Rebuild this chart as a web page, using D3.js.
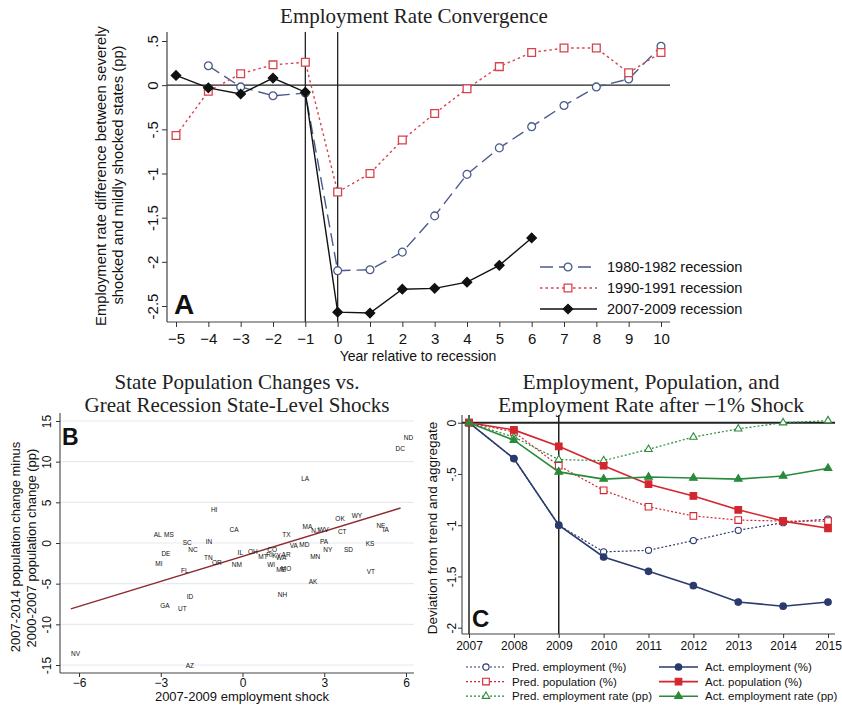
<!DOCTYPE html>
<html>
<head>
<meta charset="utf-8">
<script src="https://cdn.jsdelivr.net/npm/d3@7"></script>
<style>
body { margin: 0; background: #fff; }
svg { display: block; }
text { font-family: "Liberation Sans", Arial, sans-serif; fill: #111; }
.ttl { font-family: "Liberation Serif", "Times New Roman", serif; fill: #222; }
</style>
</head>
<body>
<script>
// ---- panel A : employment rate convergence
var yearsA = [-5, -4, -3, -2, -1, 0, 1, 2, 3, 4, 5, 6, 7, 8, 9, 10];
var rec8082 = [null, 0.22, -0.02, -0.12, -0.09, -2.10, -2.09, -1.89, -1.48, -1.01, -0.71, -0.47, -0.23, -0.02, 0.07, 0.44];
var rec9091 = [-0.57, -0.07, 0.13, 0.23, 0.26, -1.21, -1.00, -0.62, -0.32, -0.04, 0.21, 0.37, 0.42, 0.42, 0.14, 0.37];
var rec0709 = [0.11, -0.03, -0.10, 0.08, -0.08, -2.57, -2.58, -2.31, -2.30, -2.23, -2.04, -1.73, null, null, null, null];
var seriesNamesA = ["1980-1982 recession", "1990-1991 recession", "2007-2009 recession"];
var yTicksA = [0.5, 0, -0.5, -1, -1.5, -2, -2.5];

// ---- panel B : state population changes vs shocks
var states = ["ND","DC","LA","HI","OK","WY","CA","MA","NJ","WV","NE","IA","CT","TX","AL","MS","SC","IN","PA","KS",
              "VA","MD","NC","NY","SD","DE","IL","OH","CO","MT","RI","KY","WA","AR","WI","ME","MO","MN","TN","OR",
              "NM","MI","FL","VT","AK","ID","NH","GA","UT","NV","AZ"];
var shock = [6.09, 5.79, 2.30, -1.04, 3.58, 4.20, -0.31, 2.38, 2.67, 2.97, 5.08, 5.26, 3.66, 1.61, -3.11, -2.70, -2.03, -1.23, 2.99, 4.68,
             1.88, 2.27, -1.82, 3.13, 3.89, -2.81, -0.08, 0.38, 1.09, 0.75, 0.99, 1.25, 1.42, 1.60, 1.05, 1.42, 1.60, 2.67, -1.25, -0.94,
             -0.21, -3.07, -2.12, 4.71, 2.59, -1.93, 1.47, -2.85, -2.21, -6.13, -1.93];
var popChange = [12.98, 11.58, 7.88, 4.05, 3.02, 3.31, 1.58, 1.95, 1.54, 1.67, 2.16, 1.63, 1.38, 1.01, 0.96, 1.01, 0.00, 0.19, 0.19, -0.14,
                 -0.39, -0.19, -0.88, -0.84, -0.84, -1.34, -1.21, -1.09, -0.88, -1.67, -1.45, -1.55, -1.85, -1.45, -2.65, -3.27, -3.11, -1.63, -1.83, -2.45,
                 -2.61, -2.57, -3.40, -3.56, -4.79, -6.60, -6.40, -7.67, -8.05, -13.56, -15.09];
var fitSlope = 1.025, fitIntercept = -1.64, fitRange = [-6.3, 5.8];
var xTicksB = [-6, -3, 0, 3, 6];
var yTicksB = [15, 10, 5, 0, -5, -10, -15];

// ---- panel C : employment, population and employment rate after -1% shock
var yearsC = [2007, 2008, 2009, 2010, 2011, 2012, 2013, 2014, 2015];
var predEmp  = [0, -0.35, -1.00, -1.26, -1.245, -1.15, -1.05, -0.975, -0.94];
var actEmp   = [0, -0.35, -1.00, -1.31, -1.45, -1.59, -1.75, -1.79, -1.75];
var predPop  = [0, -0.09, -0.42, -0.66, -0.82, -0.91, -0.95, -0.96, -0.96];
var actPop   = [0, -0.07, -0.23, -0.42, -0.60, -0.715, -0.85, -0.96, -1.03];
var predRate = [0, -0.14, -0.36, -0.37, -0.26, -0.14, -0.06, 0.0, 0.02];
var actRate  = [0, -0.17, -0.48, -0.55, -0.53, -0.54, -0.55, -0.52, -0.445];
var seriesNamesC = ["Pred. employment (%)", "Pred. population (%)", "Pred. employment rate (pp)",
                    "Act. employment (%)", "Act. population (%)", "Act. employment rate (pp)"];
var yTicksC = [0, -0.5, -1, -1.5, -2];

function stataFmt(v) {
    // Stata style: .5, -.5, -1.5
    return String(v).replace(/^0\./, ".").replace(/^-0\./, "-.");
}

var svg = d3.select("body").append("svg")
    .attr("width", 842).attr("height", 709);

function rotatedLeftAxis(g, scale, ticks, size, pad, fontSize) {
    g.call(d3.axisLeft(scale).tickValues(ticks).tickSize(size).tickFormat(stataFmt));
    g.select(".domain").remove();
    g.selectAll(".tick line").attr("stroke", "#333");
    g.selectAll(".tick text")
        .attr("transform", "rotate(-90)")
        .attr("x", 0).attr("y", -pad).attr("dy", 0)
        .attr("text-anchor", "middle")
        .style("font-size", fontSize + "px")
        .attr("fill", "#111");
}

function bottomAxis(g, scale, ticks, size, pad, fontSize, fmt) {
    g.call(d3.axisBottom(scale).tickValues(ticks).tickSize(size).tickPadding(pad).tickFormat(fmt));
    g.select(".domain").remove();
    g.selectAll(".tick line").attr("stroke", "#333");
    g.selectAll(".tick text").style("font-size", fontSize + "px").attr("fill", "#111");
}

// ================= PANEL A =================
var xA = d3.scaleLinear().domain([-5, 10]).range([176, 661]);
var yA = d3.scaleLinear().domain([-2.5, 0.5]).range([306, 41]);
var gA = svg.append("g");
var aLeft = 167, aBottom = 322, aTop = 32, aRight = 670;

gA.append("text").attr("class", "ttl").attr("x", 414).attr("y", 23)
    .attr("text-anchor", "middle").style("font-size", "21px").text("Employment Rate Convergence");

// reference lines
gA.append("line").attr("x1", aLeft).attr("x2", aRight).attr("y1", yA(0)).attr("y2", yA(0))
    .attr("stroke", "#222").attr("stroke-width", 1.3);
[-1, 0].forEach(function (v) {
    gA.append("line").attr("x1", xA(v)).attr("x2", xA(v)).attr("y1", aTop).attr("y2", aBottom)
        .attr("stroke", "#222").attr("stroke-width", 1.3);
});

// frame
gA.append("line").attr("x1", aLeft).attr("x2", aLeft).attr("y1", aTop).attr("y2", aBottom).attr("stroke", "#444").attr("stroke-width", 1.2);
gA.append("line").attr("x1", aLeft).attr("x2", aRight).attr("y1", aBottom).attr("y2", aBottom).attr("stroke", "#444").attr("stroke-width", 1.2);

gA.append("g").attr("transform", "translate(" + aLeft + ",0)")
    .call(function (g) { rotatedLeftAxis(g, yA, yTicksA, 5, 9, 15); });
gA.append("g").attr("transform", "translate(0," + aBottom + ")")
    .call(function (g) { bottomAxis(g, xA, yearsA, 5, 6, 15, d3.format("d")); });

gA.append("text").attr("x", 418).attr("y", 361).attr("text-anchor", "middle")
    .style("font-size", "14px").text("Year relative to recession");
gA.append("text").attr("transform", "translate(106,176) rotate(-90)").attr("text-anchor", "middle")
    .style("font-size", "14.8px").text("Employment rate difference between severely");
gA.append("text").attr("transform", "translate(123,175) rotate(-90)").attr("text-anchor", "middle")
    .style("font-size", "14.8px").text("shocked and mildly shocked states (pp)");

var stylesA = [
    { data: rec8082, color: "#4a5b8c", dash: "13,6", shape: d3.symbolCircle, size: 48, fill: "#fff", rot: 0 },
    { data: rec9091, color: "#d6424d", dash: "2.5,3", shape: d3.symbolSquare, size: 60, fill: "#fff", rot: 0 },
    { data: rec0709, color: "#111", dash: null, shape: d3.symbolSquare, size: 44, fill: "#111", rot: 45 }
];

stylesA.forEach(function (s) {
    var pts = yearsA.map(function (yr, i) { return { x: yr, y: s.data[i] }; })
        .filter(function (d) { return d.y !== null; });
    gA.append("path").datum(pts)
        .attr("fill", "none").attr("stroke", s.color).attr("stroke-width", 1.4)
        .attr("stroke-dasharray", s.dash)
        .attr("d", d3.line().x(function (d) { return xA(d.x); }).y(function (d) { return yA(d.y); }));
    gA.selectAll(null).data(pts).enter().append("path")
        .attr("transform", function (d) { return "translate(" + xA(d.x) + "," + yA(d.y) + ") rotate(" + s.rot + ")"; })
        .attr("d", d3.symbol().type(s.shape).size(s.size)())
        .attr("fill", s.fill).attr("stroke", s.color).attr("stroke-width", 1.3);
});

// legend A
var legA = gA.append("g");
stylesA.forEach(function (s, i) {
    var ly = 267 + i * 21;
    legA.append("line").attr("x1", 540).attr("x2", 597).attr("y1", ly).attr("y2", ly)
        .attr("stroke", s.color).attr("stroke-width", 1.4).attr("stroke-dasharray", s.dash);
    legA.append("path").attr("transform", "translate(568," + ly + ") rotate(" + s.rot + ")")
        .attr("d", d3.symbol().type(s.shape).size(s.size)())
        .attr("fill", s.fill).attr("stroke", s.color).attr("stroke-width", 1.3);
    legA.append("text").attr("x", 607).attr("y", ly + 5).style("font-size", "14.5px").text(seriesNamesA[i]);
});

gA.append("text").attr("x", 174).attr("y", 314).style("font-size", "28px").style("font-weight", "bold").text("A");

// ================= PANEL B =================
var xB = d3.scaleLinear().domain([-6, 6]).range([79, 406]);
var yB = d3.scaleLinear().domain([-15, 15]).range([665, 421]);
var gB = svg.append("g");
var bLeft = 60, bBottom = 673, bTop = 413, bRight = 414;

gB.append("text").attr("class", "ttl").attr("x", 237).attr("y", 389).attr("text-anchor", "middle")
    .style("font-size", "21px").text("State Population Changes vs.");
gB.append("text").attr("class", "ttl").attr("x", 237).attr("y", 412).attr("text-anchor", "middle")
    .style("font-size", "21px").text("Great Recession State-Level Shocks");

gB.selectAll(".grid").data(yTicksB).enter().append("line")
    .attr("x1", bLeft).attr("x2", bRight)
    .attr("y1", function (d) { return yB(d); }).attr("y2", function (d) { return yB(d); })
    .attr("stroke", "#e6eaef").attr("stroke-width", 1.2);

gB.append("line").attr("x1", bLeft).attr("x2", bLeft).attr("y1", bTop).attr("y2", bBottom).attr("stroke", "#444").attr("stroke-width", 1.1);
gB.append("line").attr("x1", bLeft).attr("x2", bRight).attr("y1", bBottom).attr("y2", bBottom).attr("stroke", "#444").attr("stroke-width", 1.1);

gB.append("g").attr("transform", "translate(" + bLeft + ",0)")
    .call(function (g) { rotatedLeftAxis(g, yB, yTicksB, 4, 9, 12); });
gB.append("g").attr("transform", "translate(0," + bBottom + ")")
    .call(function (g) { bottomAxis(g, xB, xTicksB, 4, 1, 12, d3.format("d")); });

gB.append("text").attr("x", 242).attr("y", 701).attr("text-anchor", "middle")
    .style("font-size", "13px").text("2007-2009 employment shock");
gB.append("text").attr("transform", "translate(20,547) rotate(-90)").attr("text-anchor", "middle")
    .style("font-size", "13px").text("2007-2014 population change minus");
gB.append("text").attr("transform", "translate(36,548) rotate(-90)").attr("text-anchor", "middle")
    .style("font-size", "13px").text("2000-2007 population change (pp)");

gB.append("line")
    .attr("x1", xB(fitRange[0])).attr("y1", yB(fitIntercept + fitSlope * fitRange[0]))
    .attr("x2", xB(fitRange[1])).attr("y2", yB(fitIntercept + fitSlope * fitRange[1]))
    .attr("stroke", "#8e2b2e").attr("stroke-width", 1.4);

gB.selectAll(".st").data(states).enter().append("text")
    .attr("x", function (d, i) { return xB(shock[i]); })
    .attr("y", function (d, i) { return yB(popChange[i]); })
    .attr("dy", "0.35em").attr("text-anchor", "middle")
    .style("font-size", "6.5px").attr("fill", "#2f3c6a")
    .text(function (d) { return d; });

gB.append("text").attr("x", 62).attr("y", 445).style("font-size", "23px").style("font-weight", "bold").text("B");

// ================= PANEL C =================
var xC = d3.scaleLinear().domain([2007, 2015]).range([469, 828]);
var yC = d3.scaleLinear().domain([-2, 0]).range([627.7, 422.7]);
var gC = svg.append("g");
var cLeft = 462, cBottom = 634, cTop = 415, cRight = 835;

gC.append("text").attr("class", "ttl").attr("x", 651).attr("y", 389).attr("text-anchor", "middle")
    .style("font-size", "21.5px").text("Employment, Population, and");
gC.append("text").attr("class", "ttl").attr("x", 651).attr("y", 412).attr("text-anchor", "middle")
    .style("font-size", "21.5px").text("Employment Rate after \u22121% Shock");

gC.append("line").attr("x1", cLeft).attr("x2", cRight).attr("y1", yC(0)).attr("y2", yC(0))
    .attr("stroke", "#222").attr("stroke-width", 2);
[2007, 2009].forEach(function (v) {
    gC.append("line").attr("x1", xC(v)).attr("x2", xC(v)).attr("y1", cTop).attr("y2", cBottom)
        .attr("stroke", "#222").attr("stroke-width", 1.5);
});
gC.append("line").attr("x1", cLeft).attr("x2", cLeft).attr("y1", cTop).attr("y2", cBottom).attr("stroke", "#444").attr("stroke-width", 1.1);
gC.append("line").attr("x1", cLeft).attr("x2", cRight).attr("y1", cBottom).attr("y2", cBottom).attr("stroke", "#444").attr("stroke-width", 1.1);

gC.append("g").attr("transform", "translate(" + cLeft + ",0)")
    .call(function (g) { rotatedLeftAxis(g, yC, yTicksC, 4, 6, 12); });
gC.append("g").attr("transform", "translate(0," + cBottom + ")")
    .call(function (g) { bottomAxis(g, xC, yearsC, 4, 3, 12, d3.format("d")); });

gC.append("text").attr("transform", "translate(437,528) rotate(-90)").attr("text-anchor", "middle")
    .style("font-size", "13.5px").text("Deviation from trend and aggregate");

var navy = "#2b3a6e", red = "#d4262f", green = "#2a8a3b";
var stylesC = [
    { data: predEmp,  color: navy,  dash: "2,2", shape: d3.symbolCircle,   size: 30, fill: "#fff" },
    { data: predPop,  color: red,   dash: "2,2", shape: d3.symbolSquare,   size: 44, fill: "#fff" },
    { data: predRate, color: green, dash: "2,2", shape: d3.symbolTriangle, size: 24, fill: "#fff" },
    { data: actEmp,   color: navy,  dash: null,  shape: d3.symbolCircle,   size: 34, fill: navy },
    { data: actPop,   color: red,   dash: null,  shape: d3.symbolSquare,   size: 44, fill: red },
    { data: actRate,  color: green, dash: null,  shape: d3.symbolTriangle, size: 26, fill: green }
];

// draw actual series after predicted so filled markers sit on top
stylesC.forEach(function (s) {
    var pts = yearsC.map(function (yr, i) { return { x: yr, y: s.data[i] }; });
    gC.append("path").datum(pts)
        .attr("fill", "none").attr("stroke", s.color).attr("stroke-width", s.dash ? 1.2 : 1.6)
        .attr("stroke-dasharray", s.dash)
        .attr("d", d3.line().x(function (d) { return xC(d.x); }).y(function (d) { return yC(d.y); }));
    gC.selectAll(null).data(pts).enter().append("path")
        .attr("transform", function (d) { return "translate(" + xC(d.x) + "," + yC(d.y) + ")"; })
        .attr("d", d3.symbol().type(s.shape).size(s.size)())
        .attr("fill", s.fill).attr("stroke", s.color).attr("stroke-width", 1.1);
});

// legend C
var legC = gC.append("g");
stylesC.forEach(function (s, i) {
    var col = Math.floor(i / 3), row = i % 3;
    var x0 = col === 0 ? 466 : 659, x1 = col === 0 ? 506 : 698, tx = col === 0 ? 512 : 705;
    var ly = 667 + row * 14.6;
    legC.append("line").attr("x1", x0).attr("x2", x1).attr("y1", ly).attr("y2", ly)
        .attr("stroke", s.color).attr("stroke-width", s.dash ? 1.2 : 1.6).attr("stroke-dasharray", s.dash);
    legC.append("path").attr("transform", "translate(" + ((x0 + x1) / 2) + "," + ly + ")")
        .attr("d", d3.symbol().type(s.shape).size(s.size)())
        .attr("fill", s.fill).attr("stroke", s.color).attr("stroke-width", 1.1);
    legC.append("text").attr("x", tx).attr("y", ly + 4).style("font-size", "11.5px").text(seriesNamesC[i]);
});

gC.append("text").attr("x", 472).attr("y", 627).style("font-size", "24px").style("font-weight", "bold").text("C");
</script>
</body>
</html>
